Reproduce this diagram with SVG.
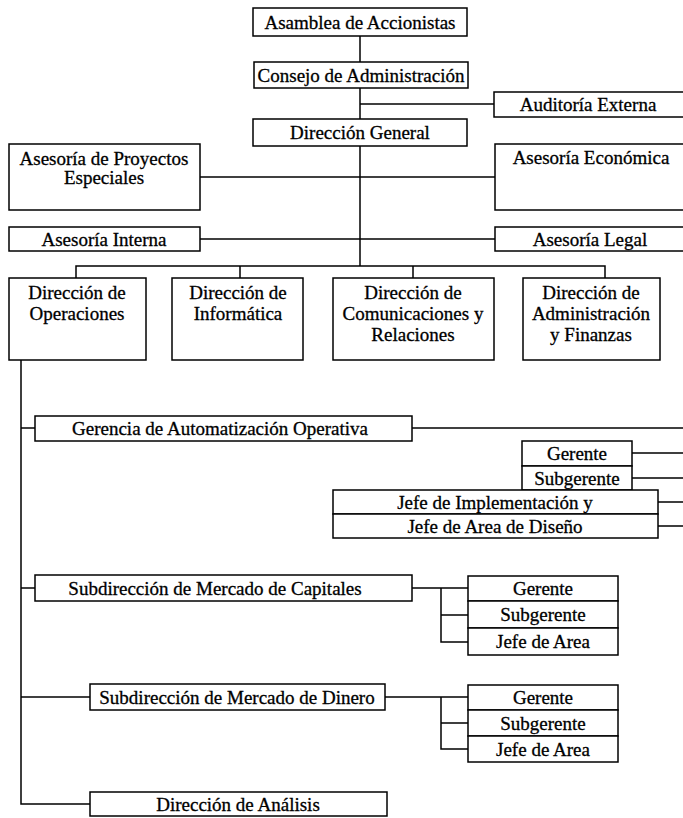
<svg xmlns="http://www.w3.org/2000/svg" width="683" height="818" viewBox="0 0 683 818">
<style>
.box{fill:#fff;stroke:#000;stroke-width:1.5}
.t{font-family:"Liberation Serif","Times New Roman",serif;font-size:19px;text-anchor:middle;dominant-baseline:central;fill:#000;stroke:#000;stroke-width:0.3}
.c{stroke:#000;stroke-width:1.5;fill:none}
</style>
<rect width="683" height="818" fill="#fff"/>
<g id="connectors">
<path class="c" d="M360,36 V62"/>
<path class="c" d="M360,88 V119"/>
<path class="c" d="M360,104 H494"/>
<path class="c" d="M360,146 V266"/>
<path class="c" d="M200,177 H495"/>
<path class="c" d="M200,239 H495"/>
<path class="c" d="M76,278 V266 H605 V278"/>
<path class="c" d="M240,266 V278 M413,266 V278"/>
<path class="c" d="M21,360 V804 H90"/>
<path class="c" d="M21,428 H35"/>
<path class="c" d="M412,428 H683"/>
<path class="c" d="M632,453 H683 M632,478 H683 M658,502 H683 M658,526 H683"/>
<path class="c" d="M21,588 H35"/>
<path class="c" d="M412,588 H468 M441,588 V642 H468 M441,615 H468"/>
<path class="c" d="M21,697 H90"/>
<path class="c" d="M385,697 H468 M441,697 V749 H468 M441,723 H468"/>
</g>
<g id="asamblea"><rect class="box" x="253" y="8" width="214" height="28"/><text class="t" x="360" y="22">Asamblea de Accionistas</text></g>
<g id="consejo"><rect class="box" x="254" y="62" width="214" height="26"/><text class="t" x="361" y="75">Consejo de Administración</text></g>
<g id="auditoria"><rect class="box" x="494" y="92" width="200" height="25"/><text class="t" x="588" y="104">Auditoría Externa</text></g>
<g id="direccion-general"><rect class="box" x="253" y="119" width="214" height="27"/><text class="t" x="360" y="132">Dirección General</text></g>
<g id="asesoria-proyectos"><rect class="box" x="9" y="144" width="191" height="66"/><text class="t" x="104" y="158">Asesoría de Proyectos</text><text class="t" x="104" y="177">Especiales</text></g>
<g id="asesoria-economica"><rect class="box" x="495" y="144" width="200" height="66"/><text class="t" x="591" y="157">Asesoría Económica</text></g>
<g id="asesoria-interna"><rect class="box" x="9" y="227" width="191" height="24"/><text class="t" x="104" y="239">Asesoría Interna</text></g>
<g id="asesoria-legal"><rect class="box" x="495" y="227" width="200" height="24"/><text class="t" x="590" y="239">Asesoría Legal</text></g>
<g id="dir-operaciones"><rect class="box" x="9" y="278" width="137" height="82"/><text class="t" x="77" y="292">Dirección de</text><text class="t" x="77" y="313">Operaciones</text></g>
<g id="dir-informatica"><rect class="box" x="172" y="278" width="131" height="82"/><text class="t" x="238" y="292">Dirección de</text><text class="t" x="238" y="313">Informática</text></g>
<g id="dir-comunicaciones"><rect class="box" x="333" y="278" width="161" height="82"/><text class="t" x="413" y="292">Dirección de</text><text class="t" x="413" y="313">Comunicaciones y</text><text class="t" x="413" y="334">Relaciones</text></g>
<g id="dir-administracion"><rect class="box" x="523" y="278" width="137" height="82"/><text class="t" x="591" y="292">Dirección de</text><text class="t" x="591" y="313">Administración</text><text class="t" x="591" y="334">y Finanzas</text></g>
<g id="gerencia-automatizacion"><rect class="box" x="35" y="416" width="377" height="25"/><text class="t" x="220" y="428">Gerencia de Automatización Operativa</text></g>
<g id="ga-gerente"><rect class="box" x="522" y="441" width="110" height="25"/><text class="t" x="577" y="453">Gerente</text></g>
<g id="ga-subgerente"><rect class="box" x="522" y="466" width="110" height="24"/><text class="t" x="577" y="478">Subgerente</text></g>
<g id="ga-jefe-implementacion"><rect class="box" x="333" y="490" width="325" height="24"/><text class="t" x="495" y="502">Jefe de Implementación y</text></g>
<g id="ga-jefe-diseno"><rect class="box" x="333" y="514" width="325" height="24"/><text class="t" x="495" y="526">Jefe de Area de Diseño</text></g>
<g id="sub-capitales"><rect class="box" x="35" y="575" width="377" height="26"/><text class="t" x="215" y="588">Subdirección de Mercado de Capitales</text></g>
<g id="cap-gerente"><rect class="box" x="468" y="576" width="150" height="25"/><text class="t" x="543" y="588">Gerente</text></g>
<g id="cap-subgerente"><rect class="box" x="468" y="601" width="150" height="27"/><text class="t" x="543" y="614">Subgerente</text></g>
<g id="cap-jefe"><rect class="box" x="468" y="628" width="150" height="27"/><text class="t" x="543" y="641">Jefe de Area</text></g>
<g id="sub-dinero"><rect class="box" x="90" y="684" width="295" height="26"/><text class="t" x="237" y="697">Subdirección de Mercado de Dinero</text></g>
<g id="din-gerente"><rect class="box" x="468" y="685" width="150" height="25"/><text class="t" x="543" y="697">Gerente</text></g>
<g id="din-subgerente"><rect class="box" x="468" y="710" width="150" height="26"/><text class="t" x="543" y="723">Subgerente</text></g>
<g id="din-jefe"><rect class="box" x="468" y="736" width="150" height="26"/><text class="t" x="543" y="749">Jefe de Area</text></g>
<g id="dir-analisis"><rect class="box" x="90" y="792" width="297" height="24"/><text class="t" x="238" y="804">Dirección de Análisis</text></g>
</svg>
